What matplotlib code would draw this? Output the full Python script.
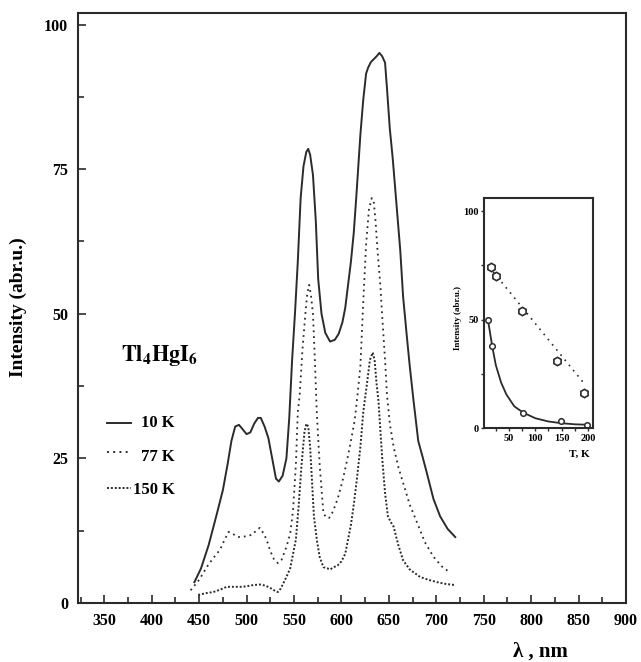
import matplotlib
matplotlib.use("Agg")
import matplotlib.pyplot as plt
from matplotlib.ticker import MultipleLocator

plt.rcParams['font.family'] = ['Liberation Serif', 'DejaVu Serif']
plt.rcParams['font.weight'] = 'bold'
plt.rcParams['mathtext.fontset'] = 'stix'

# ---- main spectra ----
lam_10 = [445, 452, 460, 468, 475, 480, 484, 488, 492, 496, 500, 504, 508, 512, 515, 519, 523, 527,
          531, 534, 538, 542, 545, 548, 551, 554, 557, 560, 563, 565, 567, 570, 573, 575.5, 579, 583,
          588, 593, 597, 601, 604, 607, 610, 613, 616, 620, 623, 626, 628, 631, 634, 637, 640, 643,
          646, 648, 651, 654, 657, 660, 662, 665, 669, 672, 676, 681, 686, 690, 697, 704, 712, 720]
int_10 = [3.6, 6, 10, 15, 19.5, 24, 28, 30.5, 30.8, 30, 29.2, 29.5, 31, 32, 32, 30.5, 28.5, 25,
          21.5, 21, 22, 25, 32, 42, 50, 59, 70, 75.5, 78, 78.5, 77.5, 74, 66, 56, 50, 46.7,
          45.2, 45.5, 46.5, 48.5, 51, 55, 59, 64, 71, 81, 87, 91.5, 92.5, 93.5, 94, 94.5, 95.1, 94.5,
          93.4, 89, 82, 77, 71, 65, 61, 53, 46, 41, 35, 28, 25, 22.5, 18, 15, 12.8, 11.4]

lam_77 = [441, 450, 458, 465, 472, 477, 481, 485, 491, 498, 506, 510, 514, 518, 521, 525, 529, 533,
          537, 542, 546, 549, 552, 554, 556, 559, 562, 564, 566, 568, 570, 572, 574, 577, 581, 584,
          587, 591, 596, 601, 606, 610, 614, 617, 620, 623, 626, 629, 632, 634, 636, 638, 641, 643,
          646, 648, 651, 655, 660, 665, 672, 680, 688, 697, 706, 715]
int_77 = [2.2, 4, 6.2, 7.8, 9.2, 11, 12.3, 12, 11.4, 11.5, 11.8, 12.5, 13, 12, 11, 9, 7.5, 6.9,
          7.5, 9.7, 12, 16, 24, 33, 36, 44, 50, 53.5, 55, 53, 50, 42, 33, 24, 15.5, 14.8,
          14.7, 15.8, 18, 21, 24.7, 28, 31.6, 36, 41, 52, 62, 68, 70, 69.5, 66, 61, 55, 49.5,
          42, 36, 31, 27, 23.5, 20.8, 17, 13.8, 10.5, 8, 6.3, 5.2]

lam_150 = [449, 457, 465, 472, 479, 488, 495, 500, 507, 514, 520, 525, 530, 533, 536, 539, 542, 546,
           549, 552, 555, 558, 561, 563, 565, 567, 569, 571, 574, 577, 581, 585, 588, 592, 596, 600,
           604, 607, 610, 613, 616, 620, 623, 627, 630, 633, 635, 637, 639, 641, 643, 646, 649, 652,
           655, 660, 665, 672, 683, 692, 701, 710, 720]
int_150 = [1.4, 1.7, 1.9, 2.3, 2.8, 2.8, 2.8, 2.9, 3.1, 3.2, 3.0, 2.6, 2.1, 1.9, 2.5, 3.5, 4.5, 6,
           8.5, 11, 17, 24, 29.5, 31, 30.5, 27, 21, 15, 11, 8, 6.2, 6, 5.8, 6.2, 6.5, 7.2,
           8.5, 11, 13.5, 17, 21, 27, 33, 38, 42, 43.3, 42, 38, 35, 30, 25, 19, 15, 14,
           13.2, 10, 7.4, 5.8, 4.5, 4.0, 3.6, 3.3, 3.1]

legend_labels = ["10 K", "77 K", "150 K"]
x_ticks = [350, 400, 450, 500, 550, 600, 650, 700, 750, 800, 850, 900]
y_ticks = [0, 25, 50, 75, 100]

# ---- inset data ----
T_fit = [10, 14, 18, 25, 35, 45, 60, 77, 100, 125, 150, 175, 200]
I_fit = [50, 44, 38, 29, 21, 15.5, 10, 7.1, 4.5, 3.0, 2.2, 1.7, 1.5]
T_circ = [10, 18, 77, 149, 198]
I_circ = [50, 38, 7, 3, 1.5]
T_hex = [16, 25, 75, 142, 192]
I_hex = [74, 70, 54, 31, 16]
T_lin = [20, 191]
I_lin = [72, 21]
inset_xticks = [50, 100, 150, 200]
inset_yticks = [0, 50, 100]

col = '#2b2b2b'
sty_77 = (0, (1, 2.2))
sty_150 = (0, (1, 1.0))

fig = plt.figure(figsize=(6.41, 6.62), dpi=100)
ax = fig.add_axes([0.1217, 0.0891, 0.8549, 0.8913])

ax.plot(lam_10, int_10, color=col, lw=1.4, ls='-')
ax.plot(lam_77, int_77, color=col, lw=1.3, ls=sty_77)
ax.plot(lam_150, int_150, color=col, lw=1.4, ls=sty_150)

ax.set_xlim(322.3, 900)
ax.set_ylim(0, 102)
ax.set_xticks(x_ticks)
ax.set_yticks(y_ticks)
ax.xaxis.set_minor_locator(MultipleLocator(25))
ax.yaxis.set_minor_locator(MultipleLocator(12.5))
ax.tick_params(which='both', direction='in', top=False, right=False, colors=col,
               labelsize=11.5, width=1.2, pad=7)
ax.tick_params(which='major', length=6)
ax.tick_params(which='minor', length=4)
for lbl in ax.get_xticklabels() + ax.get_yticklabels():
    lbl.set_fontweight('bold')
    lbl.set_color('black')
for s in ax.spines.values():
    s.set_color(col)
    s.set_linewidth(1.5)

fig.text(18 / 641, 1 - 307 / 662, "Intensity (abr.u.)", rotation=90, ha='center', va='center',
         fontsize=14, fontweight='bold')
fig.text(540 / 641, 1 - 652 / 662, "λ , nm", ha='center', va='center', fontsize=15, fontweight='bold')

ax.text((160 - 78) / 548, (603 - 356) / 590, r"$\mathbf{Tl_{4}HgI_{6}}$", transform=ax.transAxes,
        ha='center', va='center', fontsize=16)

# legend
styles = ['-', sty_77, sty_150]
line_y = [423, 452, 488]
text_y = [423, 457, 490]
for lab, st, ly, ty in zip(legend_labels, styles, line_y, text_y):
    yy = (603 - ly) / 590
    ax.plot([(107 - 78) / 548, (131 - 78) / 548], [yy, yy], transform=ax.transAxes,
            color=col, lw=1.4, ls=st)
    ax.text((175 - 78) / 548, (603 - ty) / 590, lab, transform=ax.transAxes, ha='right',
            va='center', fontsize=12, fontweight='bold')

# ---- inset ----
ax2 = fig.add_axes([484 / 641, 1 - 428 / 662, 109 / 641, 230 / 662])
ax2.plot(T_fit, I_fit, color=col, lw=1.3)
ax2.plot(T_lin, I_lin, color=col, lw=1.2, ls=(0, (1, 3)))
ax2.plot(T_circ, I_circ, ls='none', marker='o', ms=4, mfc='white', mec=col, mew=1.1)
ax2.plot(T_hex, I_hex, ls='none', marker='h', ms=6, mfc='white', mec=col, mew=1.2)
ax2.set_xlim(2.6, 209.5)
ax2.set_ylim(0, 106)
ax2.set_xticks(inset_xticks)
ax2.set_yticks(inset_yticks)
ax2.xaxis.set_minor_locator(MultipleLocator(25))
ax2.yaxis.set_minor_locator(MultipleLocator(25))
ax2.tick_params(which='both', direction='out', colors=col, labelsize=7.5, width=1, pad=1.5)
ax2.tick_params(which='major', length=2.5)
ax2.tick_params(which='minor', length=2)
for lbl in ax2.get_xticklabels() + ax2.get_yticklabels():
    lbl.set_fontweight('bold')
    lbl.set_color('black')
for s in ax2.spines.values():
    s.set_color(col)
    s.set_linewidth(1.5)
fig.text(458 / 641, 1 - 318 / 662, "Intensity (abr.u.)", rotation=90, ha='center', va='center',
         fontsize=6.5, fontweight='bold')
fig.text(579 / 641, 1 - 454 / 662, "T, K", ha='center', va='center', fontsize=8, fontweight='bold')

fig.savefig("out.png", dpi=100)
